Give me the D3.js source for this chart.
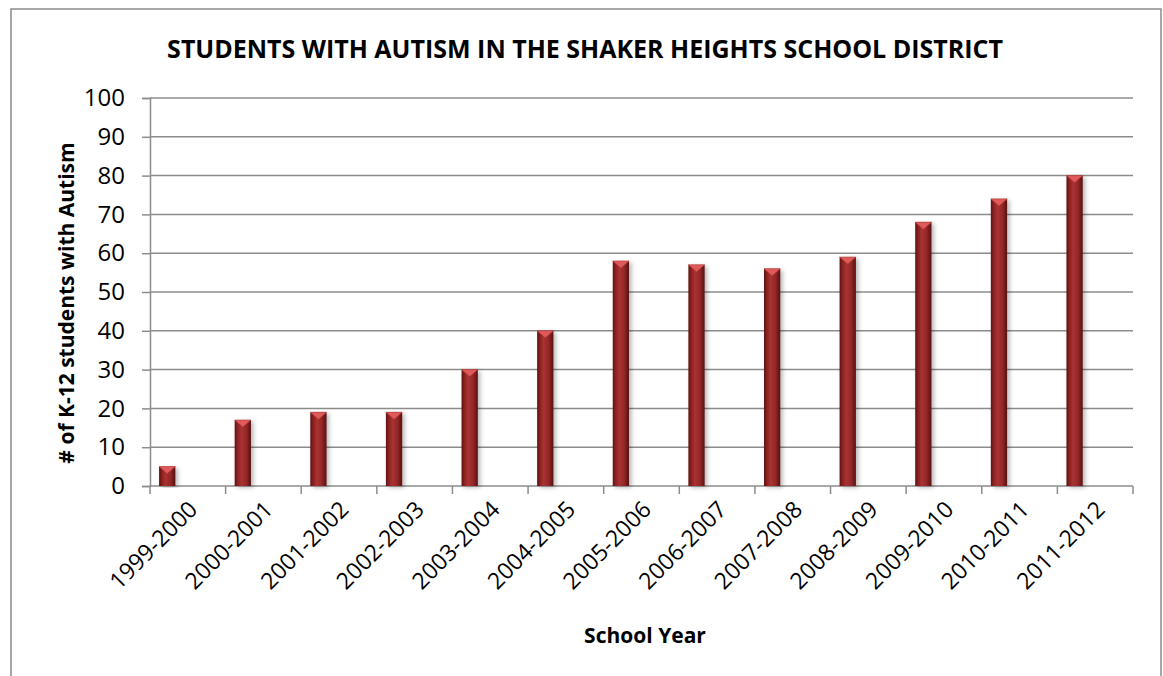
<!DOCTYPE html>
<html>
<head>
<meta charset="utf-8">
<script src="https://cdn.jsdelivr.net/npm/d3@7"></script>
<style>
  body { margin: 0; background: #fff; }
  text { font-family: "Open Sans", "Liberation Sans", sans-serif; fill: #000; }
</style>
</head>
<body>
<svg id="chart" width="1163" height="676" viewBox="0 0 1163 676"></svg>
<script>
// school years and number of students
const years = ["1999-2000","2000-2001","2001-2002","2002-2003","2003-2004","2004-2005",
    "2005-2006","2006-2007","2007-2008","2008-2009","2009-2010","2010-2011","2011-2012"]
const students = [5, 17, 19, 19, 30, 40, 58, 57, 56, 59, 68, 74, 80]
const yTicks = [0, 10, 20, 30, 40, 50, 60, 70, 80, 90, 100]

const svg = d3.select("#chart")
const plotLeft = 150, plotRight = 1133, plotTop = 98, plotBottom = 486

let defs = svg.append("defs")
let grad = defs.append("linearGradient").attr("id", "barGrad")
    .attr("x1", "0%").attr("x2", "100%").attr("y1", "0%").attr("y2", "0%")
grad.selectAll("stop")
    .data([[0, "#5e1010"], [0.18, "#8c2222"], [0.4, "#a83232"], [0.7, "#962828"], [1, "#561010"]])
    .enter().append("stop")
    .attr("offset", d => d[0]).attr("stop-color", d => d[1])
let shadow = defs.append("filter").attr("id", "shadow")
    .attr("x", "-50%").attr("y", "-10%").attr("width", "200%").attr("height", "120%")
shadow.append("feDropShadow").attr("dx", 2.5).attr("dy", 1.5)
    .attr("stdDeviation", 2).attr("flood-color", "#000").attr("flood-opacity", 0.28)

// outer frame
svg.append("rect")
    .attr("x", 11).attr("y", 9).attr("width", 1150).attr("height", 720)
    .attr("fill", "none").attr("stroke", "#8a8a8a").attr("stroke-width", 1.5)

let x = d3.scaleBand().domain(years).range([plotLeft, plotRight]).padding(0)
let y = d3.scaleLinear().domain([0, 100]).range([plotBottom, plotTop])

// grid lines
svg.append("g").selectAll("line")
    .data(yTicks.filter(d => d > 0))
    .enter().append("line")
    .attr("x1", plotLeft).attr("x2", plotRight)
    .attr("y1", d => y(d)).attr("y2", d => y(d))
    .attr("stroke", "#8c8c8c").attr("stroke-width", 1.5)

// y axis
let yAxis = svg.append("g")
    .attr("transform", `translate(${plotLeft},0)`)
    .call(d3.axisLeft(y).tickValues(yTicks).tickSize(8).tickPadding(17))
yAxis.select(".domain").attr("stroke", "#8c8c8c").attr("stroke-width", 1.5)
yAxis.selectAll(".tick line").attr("stroke", "#8c8c8c").attr("stroke-width", 1.5)
yAxis.selectAll("text").attr("font-size", 24).attr("font-family", "Open Sans").attr("fill", "#000")

// x axis, ticks between categories
let xg = svg.append("g")
xg.append("line").attr("x1", plotLeft).attr("x2", plotRight).attr("y1", plotBottom).attr("y2", plotBottom)
    .attr("stroke", "#8c8c8c").attr("stroke-width", 1.5)
xg.selectAll(".xt")
    .data(years.concat(["end"]))
    .enter().append("line")
    .attr("x1", (d, i) => plotLeft + i * x.bandwidth())
    .attr("x2", (d, i) => plotLeft + i * x.bandwidth())
    .attr("y1", plotBottom).attr("y2", plotBottom + 8)
    .attr("stroke", "#8c8c8c").attr("stroke-width", 1.5)

xg.selectAll(".xl")
    .data(years)
    .enter().append("text")
    .attr("text-anchor", "end")
    .attr("font-size", 23)
    .attr("transform", d => `translate(${x(d) + x.bandwidth() / 2 + 11},${plotBottom + 25}) rotate(-45)`)
    .text(d => d)

// bars
let bw = x.bandwidth() * 0.215
let bars = svg.append("g").selectAll("g")
    .data(years.map((d, i) => ({year: d, value: students[i]})))
    .enter().append("g")
    .attr("transform", d => `translate(${x(d.year) + x.bandwidth() * 0.12},0)`)

bars.append("rect")
    .attr("x", 0).attr("width", bw)
    .attr("y", d => y(d.value)).attr("height", d => plotBottom - y(d.value))
    .attr("fill", "url(#barGrad)")
    .attr("filter", "url(#shadow)")

bars.append("path")
    .attr("d", d => `M0,${y(d.value)} L${bw},${y(d.value)} L${bw / 2},${y(d.value) + 7} Z`)
    .attr("fill", "#e05a5a")
    .attr("stroke", "#b83a3a").attr("stroke-width", 0.6)

// titles
svg.append("text")
    .attr("x", 585).attr("y", 58)
    .attr("text-anchor", "middle")
    .attr("font-size", 25).attr("font-weight", "bold")
    .text("STUDENTS WITH AUTISM IN THE SHAKER HEIGHTS SCHOOL DISTRICT")

svg.append("text")
    .attr("transform", "translate(74,303) rotate(-90)")
    .attr("text-anchor", "middle")
    .attr("font-size", 21).attr("font-weight", "bold")
    .text("# of K-12 students with Autism")

svg.append("text")
    .attr("x", 645).attr("y", 643)
    .attr("text-anchor", "middle")
    .attr("font-size", 21).attr("font-weight", "bold")
    .text("School Year")
</script>
</body>
</html>
